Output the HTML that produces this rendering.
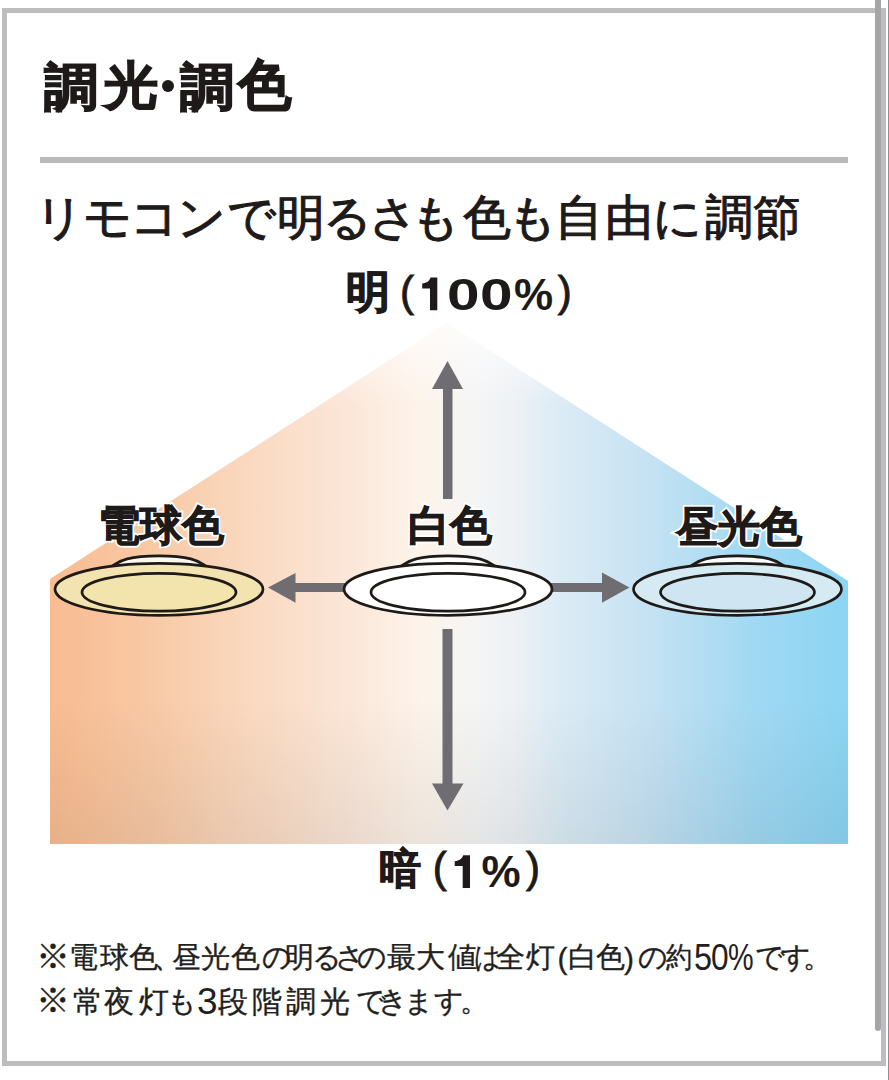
<!DOCTYPE html>
<html lang="ja">
<head>
<meta charset="utf-8">
<style>
html,body{margin:0;padding:0;background:#fff;}
body{width:889px;height:1080px;position:relative;overflow:hidden;font-family:"Liberation Sans",sans-serif;color:#1e1a1a;}
.t{position:absolute;white-space:nowrap;line-height:1;}
.b{font-weight:bold;}
#frame{position:absolute;left:2px;top:8px;width:874px;height:1048px;border:5px solid #bdbdbd;}
#thumb{position:absolute;left:875px;top:0;width:6px;height:1031px;background:#a6a6a6;border-radius:0 0 3px 3px;}
#edge{position:absolute;left:888px;top:0;width:1px;height:1080px;background:#8e8e94;}
#rule{position:absolute;left:40px;top:157px;width:808px;height:6px;background:#b9b9b9;}
svg{position:absolute;left:0;top:0;}
.tt{font-size:51px;-webkit-text-stroke:1.4px #1e1a1a;transform:scaleX(1.06);transform-origin:0 0;}
.sub{top:194px;font-size:48px;-webkit-text-stroke:1.1px #1e1a1a;}
.n{font-size:29px;color:#231f20;-webkit-text-stroke:0.35px #231f20;}
.lab{font-size:42px;-webkit-text-stroke:1px #1e1a1a;}
.halo{-webkit-text-stroke:4.5px #fff;color:#fff;}
</style>
</head>
<body>
<div id="frame"></div>
<div id="thumb"></div>
<div id="edge"></div>

<div class="t b tt" style="left:43.7px;top:62px;">調</div>
<div class="t b tt" style="left:104px;top:60px;">光</div>
<div style="position:absolute;left:161.5px;top:79.5px;width:12px;height:12px;border-radius:50%;background:#1e1a1a;"></div>
<div class="t b tt" style="left:180.2px;top:62px;">調</div>
<div class="t b tt" style="left:238px;top:58px;transform:scale(1.05,1.08);">色</div>
<div id="rule"></div>
<div class="t sub" style="left:34.6px;">リ</div><div class="t sub" style="left:83.0px;">モ</div><div class="t sub" style="left:129.7px;">コ</div><div class="t sub" style="left:176.7px;">ン</div><div class="t sub" style="left:227.0px;">で</div><div class="t sub" style="left:276.6px;">明</div><div class="t sub" style="left:323.0px;">る</div><div class="t sub" style="left:369.0px;">さ</div><div class="t sub" style="left:411.0px;">も</div><div class="t sub" style="left:463.0px;">色</div><div class="t sub" style="left:507.7px;">も</div><div class="t sub" style="left:554.7px;">自</div><div class="t sub" style="left:604.9px;">由</div><div class="t sub" style="left:653.4px;">に</div><div class="t sub" style="left:704.7px;">調</div><div class="t sub" style="left:753.0px;">節</div>

<svg width="889" height="1080" viewBox="0 0 889 1080">
  <defs>
    <linearGradient id="g" x1="50" y1="0" x2="848" y2="0" gradientUnits="userSpaceOnUse">
      <stop offset="0" stop-color="#f8bc91"/>
      <stop offset="0.125" stop-color="#f8c9a5"/>
      <stop offset="0.25" stop-color="#fad9c0"/>
      <stop offset="0.376" stop-color="#fbe7d9"/>
      <stop offset="0.464" stop-color="#fdf3ea"/>
      <stop offset="0.533" stop-color="#f5f5f5"/>
      <stop offset="0.583" stop-color="#edf1f5"/>
      <stop offset="0.633" stop-color="#ddecf5"/>
      <stop offset="0.752" stop-color="#c5e2f3"/>
      <stop offset="0.883" stop-color="#a1d9f3"/>
      <stop offset="1" stop-color="#8bd5f3"/>
    </linearGradient>
    <linearGradient id="v" x1="0" y1="323" x2="0" y2="844" gradientUnits="userSpaceOnUse">
      <stop offset="0" stop-color="#fff" stop-opacity="0.75"/>
      <stop offset="0.16" stop-color="#fff" stop-opacity="0"/>
      <stop offset="0.72" stop-color="#000" stop-opacity="0"/>
      <stop offset="1" stop-color="#000" stop-opacity="0.065"/>
    </linearGradient>
  </defs>
  <polygon points="50,579 447,323 848,581 848,844 50,844" fill="url(#g)"/>
  <polygon points="50,579 447,323 848,581 848,844 50,844" fill="url(#v)"/>
  <g fill="#6f6d72">
    <polygon points="447.5,361 432,389 463,389"/>
    <rect x="443" y="388" width="9.5" height="111"/>
    <rect x="442.5" y="629" width="10" height="156"/>
    <polygon points="447.5,810.5 432,783.5 463.5,783.5"/>
    <polygon points="268,587.6 295.5,573 295.5,602.7"/>
    <rect x="294" y="583" width="52" height="9"/>
    <rect x="550" y="583" width="53" height="9"/>
    <polygon points="629.4,587.6 602,572.4 602,602.7"/>
  </g>
  <g stroke="#1e1a18" stroke-width="2.7">
    <path d="M111,566.5 C118,563 122,556 159,555.8 C196,556 200,563 207,566.5 Z" fill="#fbf8f0"/>
    <ellipse cx="159" cy="589.3" rx="104" ry="26" fill="#f3e3b0"/>
    <ellipse cx="159" cy="592.3" rx="77" ry="18.9" fill="#f3e3ad"/>
  </g>
  <g stroke="#1e1a18" stroke-width="2.7">
    <path d="M400,566.5 C407,563 411,556 448,555.8 C485,556 489,563 496,566.5 Z" fill="#ffffff"/>
    <ellipse cx="448" cy="589.3" rx="104" ry="26" fill="#ffffff"/>
    <ellipse cx="448" cy="592.3" rx="77" ry="18.9" fill="#ffffff"/>
  </g>
  <g stroke="#1e1a18" stroke-width="2.7">
    <path d="M689.5,566.5 C696.5,563 700.5,556 737.5,555.8 C774.5,556 778.5,563 785.5,566.5 Z" fill="#f8fafc"/>
    <ellipse cx="737.5" cy="589.3" rx="104" ry="26" fill="#d6eaf4"/>
    <ellipse cx="737.5" cy="592.3" rx="77" ry="18.9" fill="#cfe5f2"/>
  </g>
</svg>

<div class="t b" style="left:346px;top:270px;font-size:44px;-webkit-text-stroke:1.2px #1e1a1a;">明</div>
<div class="t" style="left:400px;top:271px;font-size:42px;-webkit-text-stroke:0.9px #1e1a1a;">(</div>
<div class="t b" style="left:446.8px;top:273px;font-size:44px;transform:scaleX(1.33);transform-origin:0 0;">0</div>
<div class="t b" style="left:480.2px;top:273px;font-size:44px;transform:scaleX(1.33);transform-origin:0 0;">0</div>
<div class="t b" style="left:514px;top:273px;font-size:44px;">%</div>
<div class="t" style="left:557.8px;top:271px;font-size:42px;-webkit-text-stroke:0.9px #1e1a1a;">)</div>

<div class="t b" style="left:379px;top:848px;font-size:42px;-webkit-text-stroke:1px #1e1a1a;">暗</div>
<div class="t" style="left:432.8px;top:847.4px;font-size:42px;-webkit-text-stroke:0.9px #1e1a1a;">(</div>
<div class="t b" style="left:481.6px;top:850px;font-size:44px;">%</div>
<div class="t" style="left:526px;top:847.4px;font-size:42px;-webkit-text-stroke:0.9px #1e1a1a;">)</div>
<svg width="889" height="1080" style="position:absolute;left:0;top:0;">
  <path fill="#1e1a1a" d="M437.3,277.6 L437.3,310.3 L430,310.3 L430,288.4 L422.2,288.4 L422.2,283.6 C427,283.2 429.5,281 430.5,277.6 Z"/>
  <path fill="#1e1a1a" d="M470,855.2 L470,887.9 L462.7,887.9 L462.7,866 L454.7,866 L454.7,861.2 C459.5,860.8 462,858.6 463.2,855.2 Z"/>
</svg>

<div class="t b lab halo" style="left:98px;top:505px;">電球色</div>
<div class="t b lab" id="l1" style="left:98px;top:505px;">電球色</div>
<div class="t b lab halo" style="left:408px;top:505px;">白色</div>
<div class="t b lab" id="l2" style="left:408px;top:505px;">白色</div>
<div class="t b lab halo" style="left:676px;top:506px;">昼光色</div>
<div class="t b lab" id="l3" style="left:676px;top:506px;">昼光色</div>

<div class="t n" style="left:36.0px;top:939px;font-size:34px;">※</div>
<div class="t n" style="left:69.0px;top:943px;">電</div>
<div class="t n" style="left:99.6px;top:943px;">球</div>
<div class="t n" style="left:128.5px;top:943px;">色</div>
<div class="t n" style="left:153.0px;top:943px;">、</div>
<div class="t n" style="left:171.8px;top:943px;">昼</div>
<div class="t n" style="left:200.8px;top:943px;">光</div>
<div class="t n" style="left:230.5px;top:943px;">色</div>
<div class="t n" style="left:261.6px;top:943px;">の</div>
<div class="t n" style="left:285.4px;top:943px;">明</div>
<div class="t n" style="left:311.8px;top:943px;">る</div>
<div class="t n" style="left:335.4px;top:943px;">さ</div>
<div class="t n" style="left:357.3px;top:943px;">の</div>
<div class="t n" style="left:387.0px;top:943px;">最</div>
<div class="t n" style="left:415.8px;top:943px;">大</div>
<div class="t n" style="left:447.5px;top:943px;">値</div>
<div class="t n" style="left:474.0px;top:943px;transform:scaleX(0.9);transform-origin:0 0;">は</div>
<div class="t n" style="left:496.0px;top:943px;">全</div>
<div class="t n" style="left:526.4px;top:943px;">灯</div>
<div class="t n" style="left:567.6px;top:943px;">白</div>
<div class="t n" style="left:595.6px;top:943px;">色</div>
<div class="t n" style="left:638.0px;top:943px;">の</div>
<div class="t n" style="left:666.0px;top:943px;transform:scaleX(0.9);transform-origin:0 0;">約</div>
<div class="t n" style="left:754.6px;top:943px;">で</div>
<div class="t n" style="left:780.5px;top:943px;">す</div>
<div class="t n" style="left:802.8px;top:943px;">。</div>
<div class="t n" style="left:557.5px;top:944px;font-size:30px;">(</div>
<div class="t n" style="left:624.0px;top:944px;font-size:30px;">)</div>
<div class="t n" style="left:693.7px;top:940px;font-size:36px;-webkit-text-stroke:0;transform:scaleX(0.9);transform-origin:0 0;">5</div>
<div class="t n" style="left:710.5px;top:940px;font-size:36px;-webkit-text-stroke:0;transform:scaleX(0.88);transform-origin:0 0;">0</div>
<div class="t n" style="left:728.0px;top:940px;font-size:36px;-webkit-text-stroke:0;transform:scaleX(0.8);transform-origin:0 0;">%</div>
<div class="t n" style="left:36.0px;top:983px;font-size:34px;">※</div>
<div class="t n" style="left:72.6px;top:987px;font-size:30px;">常</div>
<div class="t n" style="left:104.0px;top:987px;font-size:30px;">夜</div>
<div class="t n" style="left:139.0px;top:987px;font-size:30px;">灯</div>
<div class="t n" style="left:167.4px;top:987px;font-size:29px;">も</div>
<div class="t n" style="left:218.3px;top:987px;font-size:30px;">段</div>
<div class="t n" style="left:252.4px;top:987px;font-size:30px;">階</div>
<div class="t n" style="left:286.0px;top:987px;font-size:30px;">調</div>
<div class="t n" style="left:319.8px;top:987px;font-size:30px;">光</div>
<div class="t n" style="left:356.0px;top:987px;font-size:29px;">で</div>
<div class="t n" style="left:378.3px;top:987px;font-size:29px;">き</div>
<div class="t n" style="left:403.6px;top:987px;font-size:29px;">ま</div>
<div class="t n" style="left:433.9px;top:987px;font-size:29px;">す</div>
<div class="t n" style="left:459.6px;top:987px;font-size:29px;">。</div>
<div class="t n" style="left:197.0px;top:983px;font-size:37px;-webkit-text-stroke:0;">3</div>
</body>
</html>
